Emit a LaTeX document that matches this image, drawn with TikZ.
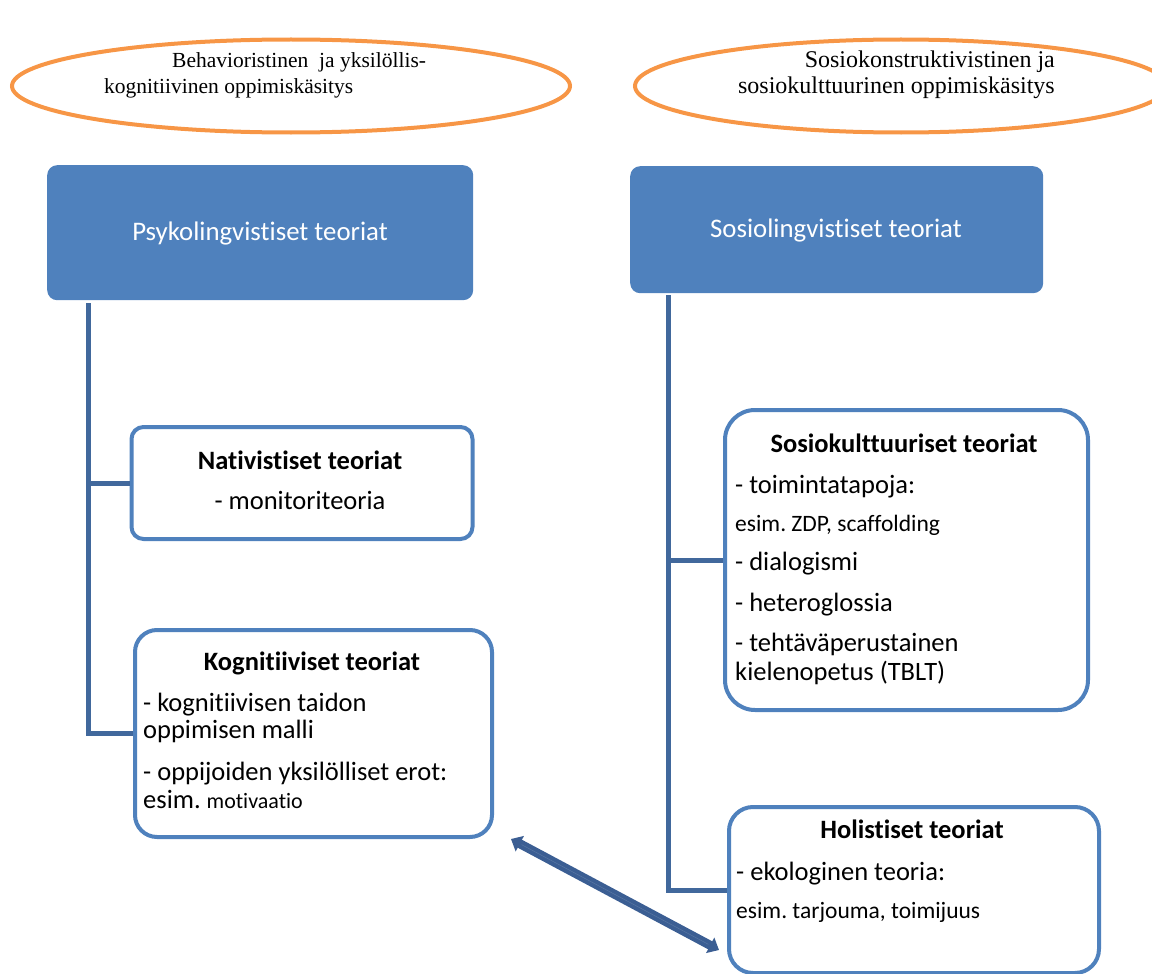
\documentclass[tikz,border=0pt]{standalone}
\usepackage{fontspec}
\setmainfont{Liberation Serif}
\newfontfamily\carlito[Ligatures=NoCommon]{Carlito}
\usetikzlibrary{shapes.geometric,arrows.meta,calc}
\definecolor{orng}{HTML}{F79646}
\definecolor{accent}{HTML}{4F81BD}
\definecolor{linkblue}{HTML}{41689C}
\definecolor{arrowblue}{HTML}{3B5E93}
\frenchspacing
\begin{document}
\begin{tikzpicture}[x=1pt,y=-1pt,
  oval/.style={draw=orng,line width=4pt,ellipse,inner sep=0pt},
  header/.style={fill=accent,rounded corners=10pt,anchor=north west,inner sep=0pt},
  topicbox/.style={draw=accent,line width=4pt,fill=white,anchor=north west,inner sep=0pt},
  link/.style={draw=linkblue,line width=5pt},
  dblarrow/.style={draw=arrowblue,line width=9pt,
    {Triangle[width=17pt,length=10pt]}-{Triangle[width=17pt,length=10pt]}},
  serifa/.style={inner sep=0pt,font=\fontsize{21.5}{25}\selectfont},
  serifb/.style={inner sep=0pt,font=\fontsize{24}{28}\selectfont},
  headtxt/.style={inner sep=0pt,anchor=base,text=white,font=\carlito\fontsize{26.8}{30}\selectfont},
  title/.style={inner sep=0pt,anchor=base,font=\carlito\bfseries\fontsize{26.5}{30}\selectfont},
  line/.style={inner sep=0pt,anchor=base west,font=\carlito\fontsize{26.5}{30}\selectfont},
  small/.style={inner sep=0pt,anchor=base west,font=\carlito\fontsize{23.5}{27}\selectfont}
]
\useasboundingbox (0,0) rectangle (1152,974);

% learning-concept ovals
\node[oval,minimum width=558pt,minimum height=93pt] (e1) at (291,86) {};
\node[serifa,anchor=base west] (e1a) at (172,68) {Behavioristinen\ \ ja yksilöllis-};
\node[serifa,anchor=base west] (e1b) at (104,94) {kognitiivinen oppimiskäsitys};
\node[oval,minimum width=532pt,minimum height=93pt] (e2) at (901,86) {};
\node[serifb,anchor=base east] (e2a) at (1055,67) {Sosiokonstruktivistinen ja};
\node[serifb,anchor=base east] (e2b) at (1055,93) {sosiokulttuurinen oppimiskäsitys};

% headers
\node[header,minimum width=426pt,minimum height=135pt] (psy) at (47,165) {};
\node[headtxt] (psyt) at (260,240) {Psykolingvistiset teoriat};
\node[header,minimum width=413pt,minimum height=127pt] (sos) at (630,166) {};
\node[headtxt] (sost) at (836,237) {Sosiolingvistiset teoriat};

% left column boxes
\node[topicbox,rounded corners=12pt,minimum width=341pt,minimum height=112pt] (nat) at (129.5,425) {};
\node[title] (natt) at (300,469) {Nativistiset teoriat};
\node[line,anchor=base] (nat1) at (300,509) {- monitoriteoria};

\node[topicbox,rounded corners=22pt,minimum width=357pt,minimum height=207pt] (kog) at (133,628) {};
\node[title] (kogt) at (312,670) {Kognitiiviset teoriat};
\node[line] (kog1) at (143,711) {- kognitiivisen taidon};
\node[line] (kog2) at (143,738) {oppimisen malli};
\node[line] (kog3) at (143,780) {- oppijoiden yksilölliset erot:};
\node[line] (kog4) at (143,808) {esim. {\fontsize{22}{26}\selectfont motivaatio}};

% right column boxes
\node[topicbox,rounded corners=30pt,minimum width=363pt,minimum height=300pt] (soc) at (723,408) {};
\node[title] (soct) at (904,452) {Sosiokulttuuriset teoriat};
\node[line] (soc1) at (735,493) {- toimintatapoja:};
\node[small] (soc2) at (735,531) {esim. ZDP, scaffolding};
\node[line] (soc3) at (735,570) {- dialogismi};
\node[line] (soc4) at (735,611) {- heteroglossia};
\node[line] (soc5) at (735,651) {- tehtäväperustainen};
\node[line] (soc6) at (735,680) {kielenopetus (TBLT)};

\node[topicbox,rounded corners=24pt,minimum width=370pt,minimum height=166pt] (hol) at (727,805) {};
\node[title] (holt) at (912,838) {Holistiset teoriat};
\node[line] (hol1) at (736,880) {- ekologinen teoria:};
\node[small] (hol2) at (736,918) {esim. tarjouma, toimijuus};

% tree connectors
\coordinate (psyroot) at ($(psy.south west)+(41,3)$);
\coordinate (sosroot) at ($(sos.south west)+(38,2)$);
\draw[link] (psyroot) |- (nat.west);
\draw[link] (psyroot) |- (kog.west);
\draw[link] (sosroot) |- (soc.west);
\draw[link] (sosroot) |- (hol.west);

% two-way link between the cognitive and holistic boxes
\coordinate (arrA) at ($(kog.south east)+(17,0)$);
\coordinate (arrB) at ($(hol.south west)+(-8,-25)$);
\draw[dblarrow] (arrA) -- (arrB);
\draw[arrowblue!85!white,line width=0.5pt,shorten <=12pt,shorten >=12pt] (arrA) -- (arrB);
\end{tikzpicture}
\end{document}
